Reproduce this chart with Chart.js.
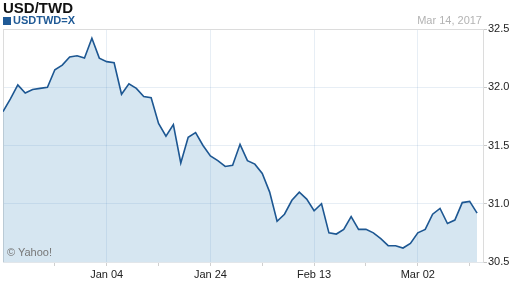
<!DOCTYPE html>
<html>
<head>
<meta charset="utf-8">
<script src="https://cdn.jsdelivr.net/npm/chart.js@4"></script>
<style>
  body { margin: 0; background: #fff; }
  #wrap { position: relative; width: 512px; height: 288px; font-family: "Liberation Sans", Arial, sans-serif; }
  #title { position: absolute; left: 3px; top: -1px; font-size: 15px; font-weight: bold; color: #111; }
  #legend { position: absolute; left: 3px; top: 14px; font-size: 11px; font-weight: bold; color: #1f5a96; }
  #legend span { display: inline-block; width: 8px; height: 8px; background: #1f5a96; margin-right: 2px; vertical-align: -1px; }
  #date { position: absolute; right: 30px; top: 14px; font-size: 11px; color: #b3b3b3; }
  #credit { position: absolute; left: 7px; top: 246px; font-size: 11px; color: #777; }
</style>
</head>
<body>
<div id="wrap">
  <canvas id="graph" width="512" height="288"></canvas>
  <div id="title">USD/TWD</div>
  <div id="legend"><span></span>USDTWD=X</div>
  <div id="date">Mar 14, 2017</div>
  <div id="credit">© Yahoo!</div>
</div>
<script>
// daily closes, Dec 15 2016 .. Mar 14 2017 (index = trading day)
var rates = [31.79,31.90,32.02,31.95,31.98,31.99,32.00,32.15,32.19,32.26,
             32.27,32.25,32.42,32.25,32.22,32.21,31.94,32.03,31.99,31.92,
             31.91,31.69,31.58,31.68,31.35,31.57,31.61,31.50,31.41,31.37,
             31.32,31.33,31.51,31.37,31.34,31.26,31.10,30.85,30.91,31.03,
             31.10,31.04,30.94,31.00,30.75,30.74,30.78,30.89,30.78,30.78,
             30.75,30.70,30.64,30.64,30.62,30.66,30.75,30.78,30.91,30.96,
             30.83,30.86,31.01,31.02,30.92];

// x axis tick positions (trading day index) and their labels
var tickDays  = [7,14,21,28,35,42,49,56,63];
var labelDays = [14,28,42,56];
var labelText = ['Jan 04','Jan 24','Feb 13','Mar 02'];

var yTicks = [30.5,31.0,31.5,32.0,32.5];

var pts = [];
for (var i = 0; i < rates.length; i++) {
  pts.push({x: i, y: rates[i]});
}

var frame = {
  id: 'frame',
  beforeDatasetsDraw: function(chart) {
    var a = chart.chartArea, c = chart.ctx;
    c.save();
    c.strokeStyle = '#dcdcdc';
    c.lineWidth = 1;
    c.beginPath();
    c.moveTo(a.left + 0.5, a.bottom);
    c.lineTo(a.left + 0.5, a.top + 0.5);
    c.lineTo(a.right, a.top + 0.5);
    c.stroke();
    c.restore();
  }
};

new Chart(document.getElementById('graph'), {
  type: 'line',
  data: {
    datasets: [{
      data: pts,
      borderColor: '#1d5792',
      borderWidth: 1.6,
      backgroundColor: 'rgba(70,140,190,0.22)',
      fill: 'start',
      tension: 0,
      pointRadius: 0
    }]
  },
  options: {
    responsive: false,
    animation: false,
    layout: { padding: { top: 29, left: 3, right: 0, bottom: 0 } },
    plugins: { legend: { display: false }, tooltip: { enabled: false } },
    scales: {
      x: {
        type: 'linear',
        min: 0,
        max: 64.8,
        afterBuildTicks: function(ax) {
          ax.ticks = tickDays.map(function(v) { return {value: v}; });
        },
        afterFit: function(ax) { ax.height = 26; },
        ticks: {
          autoSkip: false,
          maxRotation: 0,
          padding: 2,
          color: '#222',
          font: { family: '"Liberation Sans", Arial', size: 11 },
          callback: function(v) {
            var k = labelDays.indexOf(v);
            return k >= 0 ? labelText[k] : '';
          }
        },
        grid: {
          color: function(ctx) {
            return labelDays.indexOf(ctx.tick && ctx.tick.value) >= 0 ? 'rgba(40,100,160,0.11)' : 'rgba(0,0,0,0)';
          },
          tickColor: '#d0d0d0',
          tickLength: 4
        },
        border: { display: true, color: '#e2e6ea' }
      },
      y: {
        position: 'right',
        min: 30.5,
        max: 32.5,
        afterBuildTicks: function(ax) {
          ax.ticks = yTicks.map(function(v) { return {value: v}; });
        },
        afterFit: function(ax) { ax.width = 29; },
        ticks: {
          padding: 1,
          color: '#222',
          font: { family: '"Liberation Sans", Arial', size: 11 },
          callback: function(v) { return v.toFixed(1); }
        },
        grid: {
          color: function(ctx) {
            var v = ctx.tick && ctx.tick.value;
            if (v === 32.5) return '#dcdcdc';
            if (v === 30.5) return 'rgba(0,0,0,0)';
            return 'rgba(40,100,160,0.11)';
          },
          tickColor: '#c8c8c8',
          tickLength: 4
        },
        border: { display: true, color: '#dcdcdc' }
      }
    }
  },
  plugins: [frame]
});
</script>
</body>
</html>
